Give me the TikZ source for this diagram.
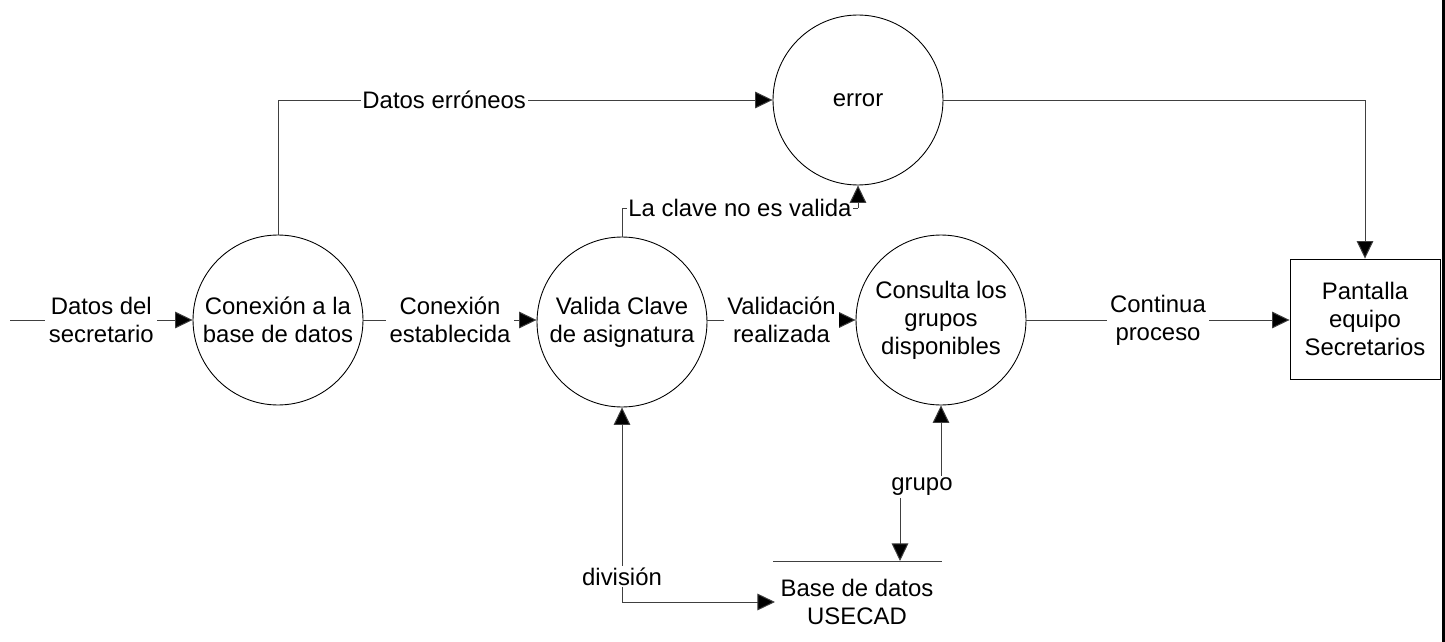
\documentclass[tikz,border=0pt]{standalone}
\usepackage{fontspec}
\setmainfont{Liberation Sans}
\usetikzlibrary{arrows.meta,calc}
\tikzset{
  proc/.style={circle,draw=black,line width=0.5pt,minimum size=3.4cm,inner sep=0pt,align=center},
  entity/.style={rectangle,draw=black,line width=0.5pt,minimum width=3cm,minimum height=2.4cm,align=center},
  flow/.style={draw=black!75,line width=0.55pt,-{Triangle[length=10pt,width=9.5pt,fill=black]}},
  biflow/.style={draw=black!75,line width=0.55pt,{Triangle[length=10pt,width=9.5pt,fill=black]}-{Triangle[length=10pt,width=9.5pt,fill=black]}},
  plain/.style={draw=black!75,line width=0.55pt},
  lbl/.style={fill=white,align=center,inner sep=2pt},
  storetext/.style={align=center,inner xsep=3pt,inner ysep=1pt},
}
\begin{document}
\begin{tikzpicture}[x=0.02cm,y=-0.02cm,font=\fontsize{13.6}{15.9}\selectfont]
\useasboundingbox (0,0) rectangle (1445,642);
\fill[white] (0,0) rectangle (1445,642);

\node[proc] (con) at (278,320) {Conexión a la\\base de datos};
\node[proc] (val) at (622,322) {Valida Clave\\de asignatura};
\node[proc] (cons) at (941,320) {Consulta los\\grupos\\disponibles};
\node[proc] (err) at (858,100) {error};
\node[entity] (pan) at (1365,319) {Pantalla\\equipo\\Secretarios};
\node[storetext] (ds) at (857,602) {Base de datos\\USECAD};
\coordinate (dsL) at (773,561);
\coordinate (dsR) at (942,561);
\coordinate (dsIn) at (900,561);
\coordinate (src) at (10,320);
\coordinate (kc) at (858,208);
\node[inner sep=1pt] (grp) at (922,487) {grupo};

\draw[plain] (dsL) -- (dsR);

\draw[flow] (src) -- node[lbl]{Datos del\\secretario} (con.west);
\draw[flow] (con.east) -- node[lbl]{Conexión\\establecida} (con.east -| val.west);
\draw[flow] (val.west -| val.east) ++(0,-2) -- node[lbl]{Validación\\realizada} (cons.west);
\draw[flow] (cons.east) -- node[lbl]{Continua\\proceso} (cons.east -| pan.west);
\draw[flow] (con.north) |- node[lbl,pos=0.668,inner sep=1pt]{Datos erróneos} (err.west);
\draw[flow] (err.east) -| (pan.north);
\draw[plain] (val.north) |- node[lbl,pos=0.75,inner sep=1pt]{La clave no es valida} (kc);
\draw[flow] (kc) -- (err.south);
\draw[biflow] (ds.west) -| node[lbl,pos=0.565,inner sep=1pt]{división} (val.south);
\draw[flow] (grp.north -| cons.south) -- (cons.south);
\draw[flow] (grp.south -| dsIn) -- (dsIn);

\fill[black] (1441.5,0) rectangle (1445,642);
\end{tikzpicture}
\end{document}
